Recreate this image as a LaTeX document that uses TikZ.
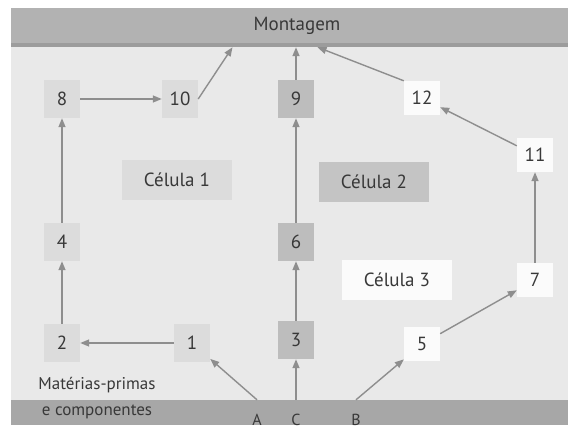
\documentclass[tikz,border=0pt]{standalone}
\usepackage{fontspec}
\setmainfont{PT Sans}
\usetikzlibrary{arrows.meta}

\definecolor{paper}{HTML}{E9E9E9}
\definecolor{barTop}{HTML}{B2B2B2}
\definecolor{barEdge}{HTML}{9C9C9C}
\definecolor{barLow}{HTML}{A7A7A7}
\definecolor{cellLight}{HTML}{DCDCDC}
\definecolor{cellDark}{HTML}{BDBDBD}
\definecolor{cellWhite}{HTML}{FBFBFB}
\definecolor{flow}{HTML}{8E8E8E}
\definecolor{ink}{HTML}{383838}

\begin{document}
\begin{tikzpicture}[x=1pt,y=-1pt,>={Triangle[length=9pt,width=7pt]},
                    every edge/.style={draw=flow,line width=1.4pt,->},
                    machine/.style={minimum width=36pt,minimum height=38pt,inner sep=0pt,
                                    text=ink,font=\fontsize{19}{22}\selectfont},
                    light node/.style={machine,fill=cellLight},
                    dark node/.style={machine,fill=cellDark},
                    white node/.style={machine,fill=cellWhite,minimum height=34pt},
                    cell name/.style={minimum width=110pt,minimum height=40pt,inner sep=0pt,
                                      text=ink,font=\fontsize{19}{22}\selectfont}]

  % page and bars
  \fill[white] (0,0) rectangle (568,425);
  \fill[paper] (11,8) rectangle (568,425);
  \node[fill=barTop,minimum width=557pt,minimum height=39pt,inner sep=0pt,
        text=ink,font=\fontsize{19}{22}\selectfont] (mont) at (289.5,27.5) {};
  \fill[barEdge] (11,43) rectangle (568,47);
  \node[text=ink,font=\fontsize{19}{22}\selectfont] at (297,26) {Montagem};
  \node[fill=barLow,minimum width=557pt,minimum height=25pt,inner sep=0pt] (base) at (289.5,412.5) {};

  % cells
  \node[cell name,fill=cellLight] (cel1) at (177,180) {Célula 1};
  \node[cell name,fill=cellDark!90!white] (cel2) at (374,182) {Célula 2};
  \node[cell name,fill=cellWhite] (cel3) at (397,280) {Célula 3};

  % machines
  \node[light node] (n8) at (62,99) {8};
  \node[light node] (n10) at (180,99) {10};
  \node[light node] (n4) at (62,242) {4};
  \node[light node] (n2) at (62,343) {2};
  \node[light node] (n1) at (192,343) {1};
  \node[dark node] (n9) at (296,99) {9};
  \node[dark node] (n6) at (296,242) {6};
  \node[dark node] (n3) at (296,340) {3};
  \node[white node] (n12) at (422,98) {12};
  \node[white node] (n11) at (535,155) {11};
  \node[white node] (n7) at (535,280) {7};
  \node[white node] (n5) at (422,344) {5};

  % inputs
  \node[text=ink,font=\fontsize{17}{26}\selectfont,align=center] (raw) at (97,398)
       {Matérias-primas\\e componentes};
  \node[text=ink,font=\fontsize{16}{18}\selectfont] (A) at (257,420) {A};
  \node[text=ink,font=\fontsize{16}{18}\selectfont] (C) at (296,420) {C};
  \node[text=ink,font=\fontsize{16}{18}\selectfont] (B) at (356,420) {B};

  \path
    (A |- base.north) edge (n1)
    (C |- base.north) edge (n3)
    (B |- base.north) edge (n5)
    (n1) edge (n2)
    (n2) edge (n4)
    (n4) edge (n8)
    (n8) edge (n10)
    (n10.east) edge ([xshift=-57pt]mont.south)
    (n3) edge (n6)
    (n6) edge (n9)
    (n9) edge (n9 |- mont.south)
    (n5) edge (n7)
    (n7) edge (n11)
    (n11) edge (n12)
    (n12.north west) edge ([xshift=28pt]mont.south)
;
\end{tikzpicture}
\end{document}
